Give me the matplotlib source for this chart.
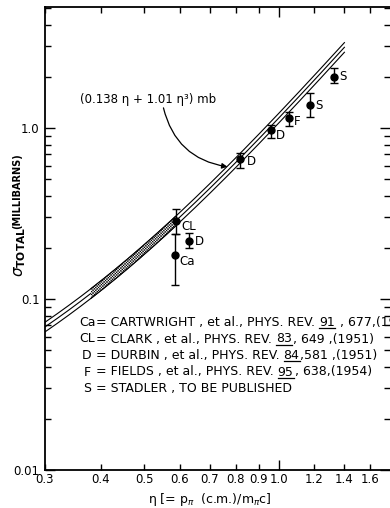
import numpy as np
import matplotlib.pyplot as plt
from matplotlib.lines import Line2D

# dane: точки експерименту (eta, sigma, похибки)
eta_pts = [0.585, 0.59, 0.63, 0.82, 0.96, 1.05, 1.17, 1.325]
sig_pts = [0.18, 0.285, 0.217, 0.66, 0.973, 1.14, 1.36, 2.0]
err_lo = [0.06, 0.046, 0.017, 0.075, 0.098, 0.11, 0.20, 0.17]
err_hi = [0.059, 0.053, 0.025, 0.056, 0.067, 0.10, 0.24, 0.23]
pt_labels = ['Ca', 'CL', 'D', 'D', 'D', 'F', 'S', 'S']
label_offsets = [(5, -6), (5, -5), (6, 0), (6, -3), (5, -5), (5, -3), (6, 0), (6, 0)]

# коефіцієнти кривої sigma = a*eta + b*eta^3
coef_a = 0.138
coef_b = 1.01
band = 0.065
eta_range = (0.30, 1.40)
hatch_range = (0.38, 0.587)

x_ticks = [0.3, 0.4, 0.5, 0.6, 0.7, 0.8, 0.9, 1.2, 1.4, 1.6]
x_tick_labels = ['0.3', '0.4', '0.5', '0.6', '0.7', '0.8', '0.9', '1.2', '1.4', '1.6']
y_ticks = [0.01, 0.1, 1.0]
y_tick_labels = ['0.01', '0.1', '1.0']

ref_keys = ['Ca', 'CL', 'D', 'F', 'S']
ref_text = ['= CARTWRIGHT , et al., PHYS. REV.', '= CLARK , et al., PHYS. REV.',
            '= DURBIN , et al., PHYS. REV.', '= FIELDS , et al., PHYS. REV.',
            '= STADLER , TO BE PUBLISHED']
ref_vol = ['91', '83', '84', '95', '']
ref_tail = [' , 677,(1953', ', 649 ,(1951)', ',581 ,(1951)', ', 638,(1954)', '']

W, H = 390, 508
fig = plt.figure(figsize=(W / 100, H / 100), dpi=100)
ax = fig.add_axes([45 / W, 1 - 470 / H, 345 / W, 463 / H])

def f(x):
    return coef_a * x + coef_b * x**3

eta = np.linspace(eta_range[0], eta_range[1], 400)
for k in (1 - band, 1.0, 1 + band):
    ax.plot(eta, k * f(eta), color='black', lw=0.8)

eh = np.linspace(hatch_range[0], hatch_range[1], 200)
plt.rcParams['hatch.linewidth'] = 0.35
ax.fill_between(eh, (1 - band) * f(eh), (1 + band) * f(eh), facecolor='white',
                edgecolor='black', hatch='x' * 12, linewidth=0, zorder=3)
ax.plot(eh, (1 - band) * f(eh), color='black', lw=0.8, zorder=4)
ax.plot(eh, (1 + band) * f(eh), color='black', lw=0.8, zorder=4)

ax.errorbar(eta_pts, sig_pts, yerr=[err_lo, err_hi], fmt='o', color='black',
            ms=5, capsize=3, elinewidth=1, capthick=1, zorder=5)
for x, y, lab, off in zip(eta_pts, sig_pts, pt_labels, label_offsets):
    ax.annotate(lab, (x, y), xytext=off, textcoords='offset pixels',
                fontsize=8.5, va='center', ha='left')

ax.text(0.511, 1.46, '(0.138 η + 1.01 η³) mb', fontsize=8.5, ha='center', va='center')
ax.annotate('', xy=(0.778, 0.59), xytext=(0.55, 1.36),
            arrowprops=dict(arrowstyle='-|>', connectionstyle='arc3,rad=0.35',
                            color='black', lw=0.9, mutation_scale=8))

ax.set_xscale('log')
ax.set_yscale('log')
ax.set_xlim(0.302, 1.77)
ax.set_ylim(0.01, 5.1)

ax.set_xticks([1.0], ['1.0'])
ax.set_xticks(x_ticks, x_tick_labels, minor=True)
ax.set_yticks(y_ticks, y_tick_labels)
ax.tick_params(which='both', direction='in', top=True, right=True, labelsize=8.5)
ax.tick_params(axis='x', which='both', pad=2)
ax.tick_params(axis='y', which='both', pad=4)
ax.tick_params(which='major', length=7, width=1)
ax.tick_params(which='minor', length=4, width=1)
ax.spines['right'].set_visible(False)
for s in ('left', 'bottom', 'top'):
    ax.spines[s].set_linewidth(1.3)

fig.text(210 / W, 1 - 499 / H, 'η [= p$_\\pi$  (c.m.)/m$_\\pi$c]',
         fontsize=9, ha='center', va='center')
fig.text(20 / W, 1 - 252 / H, r'$\sigma_{\mathbf{TOTAL}}$',
         fontsize=11, rotation=90, ha='center', va='center')
fig.text(17 / W, 1 - 191 / H, '(MILLIBARNS)',
         fontsize=7, fontweight='bold', rotation=90, ha='center', va='center')

# таблиця посилань з підкресленими томами
fig.canvas.draw()
r = fig.canvas.get_renderer()
fs = 9
for i in range(len(ref_keys)):
    y = 1 - (326 + i * 16.5) / H
    fig.text(87 / W, y, ref_keys[i], fontsize=fs, ha='center', va='baseline')
    t = fig.text(96 / W, y, ref_text[i], fontsize=fs, va='baseline')
    if not ref_vol[i]:
        continue
    bb = t.get_window_extent(r)
    tv = fig.text((bb.x1 + 4) / W, y, ref_vol[i], fontsize=fs, va='baseline')
    bv = tv.get_window_extent(r)
    fig.add_artist(Line2D([bv.x0 / W, bv.x1 / W], [y - 2 / H, y - 2 / H],
                          color='black', lw=0.9))
    fig.text((bv.x1 + 1) / W, y, ref_tail[i], fontsize=fs, va='baseline')

fig.savefig('out.png', dpi=100)
